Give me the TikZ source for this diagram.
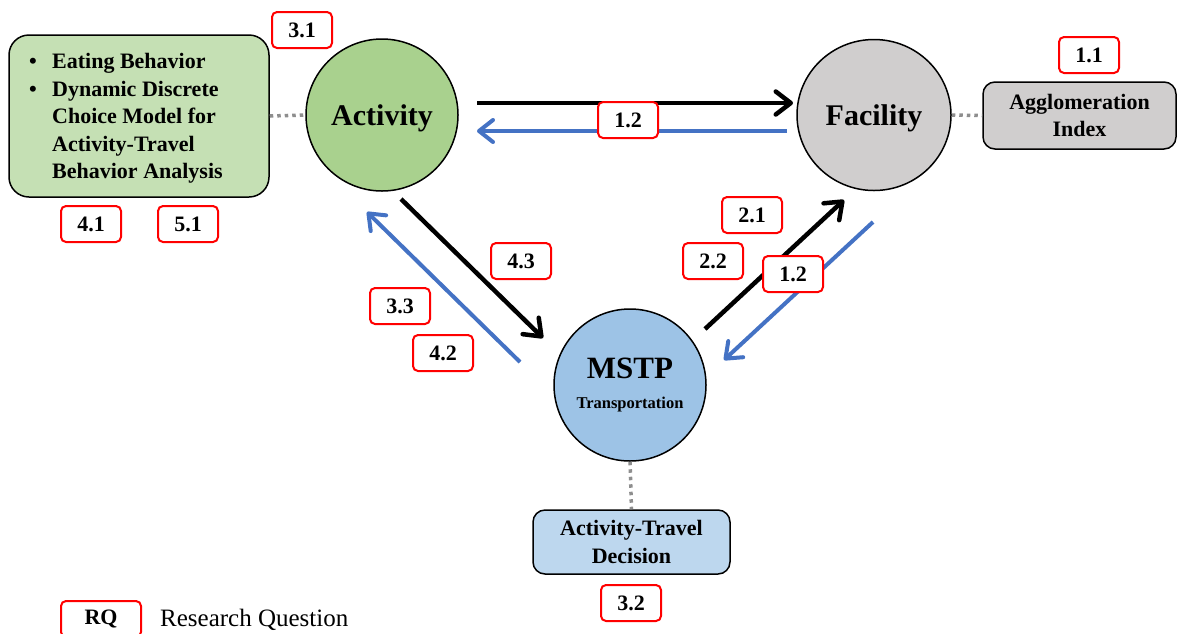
\documentclass[tikz,border=0pt]{standalone}
\usepackage{fontspec}
\setmainfont{Liberation Serif}
\usetikzlibrary{arrows.meta,shapes.geometric}
\definecolor{notegreen}{HTML}{C5E0B4}
\definecolor{actgreen}{HTML}{A9D18E}
\definecolor{facgray}{HTML}{D0CECE}
\definecolor{mstpblue}{HTML}{9DC3E6}
\definecolor{decblue}{HTML}{BDD7EE}
\definecolor{flowblue}{HTML}{4472C4}
\definecolor{dotgray}{HTML}{8E8E8E}
\newcommand{\bodyfont}{\fontsize{22}{27.5}\selectfont\bfseries}
\begin{document}
\begin{tikzpicture}[x=1pt,y=-1pt,
  circ/.style={circle, draw=black, line width=1.5pt, minimum size=152pt, inner sep=0pt,
    font=\fontsize{30}{34}\selectfont\bfseries},
  infobox/.style={draw=black, line width=1.5pt, rounded corners=12pt, inner sep=0pt,
    align=center, font=\bodyfont},
  rq/.style={draw=red, line width=2pt, rounded corners=5pt, fill=white,
    minimum width=60pt, minimum height=36pt, inner sep=0pt, font=\bodyfont},
  dotline/.style={dotgray, line width=3.5pt, dash pattern=on 3.5pt off 4pt},
  flowblack/.style={black, line width=4.5pt,
    -{Straight Barb[length=15pt,width=23pt,line cap=round,line join=round]}},
  flowblu/.style={flowblue, line width=4pt,
    -{Straight Barb[length=14pt,width=22pt,line cap=round,line join=round]}}]
\useasboundingbox (0,0) rectangle (1177,633);

% main entities
\node[circ, fill=actgreen, text depth=0pt] (act) at (382,115) {Activity};
\node[ellipse, draw=black, line width=1.5pt, fill=facgray, minimum width=154pt,
  minimum height=151pt, inner sep=0pt, text depth=0pt,
  font=\fontsize{30}{34}\selectfont\bfseries]
  (fac) at (874,115) {Facility};
\node[circ, fill=mstpblue, align=center] (mstp) at (630,385)
  {{\fontsize{31}{31}\selectfont MSTP}\\[-4pt]{\fontsize{16.5}{18}\selectfont Transportation}};

% side boxes
\node[infobox, fill=notegreen, rounded corners=20pt, minimum width=260pt, minimum height=162pt]
  (notes) at (139,116) {};
\node[anchor=west, inner sep=0pt, font=\bodyfont] (notestext) at (29,118) {%
  \begin{tabular}{@{}p{23pt}@{}l@{}}
  \textbullet & Eating Behavior\\
  \textbullet & Dynamic Discrete\\
   & Choice Model for\\
   & Activity-Travel\\
   & Behavior Analysis
  \end{tabular}};
\node[infobox, fill=facgray, minimum width=193pt, minimum height=67pt]
  (agg) at (1079.5,115.5) {Agglomeration\\Index};
\node[infobox, fill=decblue, minimum width=197pt, minimum height=64pt]
  (dec) at (631.5,542) {Activity-Travel\\Decision};

% dotted attachments
\draw[dotline] (notes.east) -- (act.west);
\draw[dotline] (fac.east) -- (agg.west);
\draw[dotline] (mstp.south) -- (dec.north);

% flow endpoints
\coordinate (afS) at (477,103);  \coordinate (afE) at (793,103);
\coordinate (faS) at (787,131);  \coordinate (faE) at (477,131);
\coordinate (amS) at (401,199);  \coordinate (amE) at (543,338);
\coordinate (maS) at (520,362);  \coordinate (maE) at (367,212);
\coordinate (mfS) at (705,329);  \coordinate (mfE) at (844,200);
\coordinate (fmS) at (873,222);  \coordinate (fmE) at (724,360);

\draw[flowblack] (afS) -- (afE);
\draw[flowblu] (faS) -- (faE);
\draw[flowblack] (amS) -- (amE);
\draw[flowblu] (maS) -- (maE);
\draw[flowblack] (mfS) -- (mfE);
\draw[flowblu] (fmS) -- (fmE);

% research question tags
\node[rq] (q31) at (302,30) {3.1};
\node[rq] (q11) at (1089,55) {1.1};
\node[rq] (q12a) at (628,120) {1.2};
\node[rq] (q41) at (91,224) {4.1};
\node[rq] (q51) at (188,224) {5.1};
\node[rq] (q21) at (752,215) {2.1};
\node[rq] (q22) at (713,261) {2.2};
\node[rq] (q12b) at (793,274) {1.2};
\node[rq] (q43) at (521,261) {4.3};
\node[rq] (q33) at (400,306) {3.3};
\node[rq] (q42) at (443,353) {4.2};
\node[rq] (q32) at (631,603) {3.2};

% legend
\node[rq, minimum width=80pt] (legbox) at (101,619) {RQ};
\node[anchor=west, inner sep=0pt, font=\fontsize{25}{28}\selectfont] (legtext) at (160,620)
  {Research Question};
\end{tikzpicture}
\end{document}
